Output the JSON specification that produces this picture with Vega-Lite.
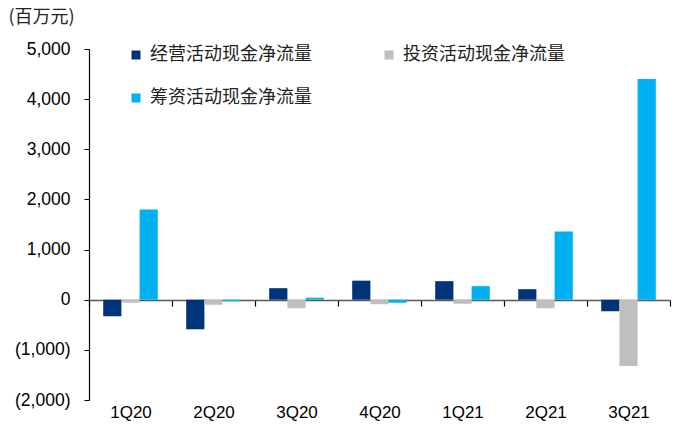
{
  "$schema": "https://vega.github.io/schema/vega-lite/v6.json",
  "width": 581,
  "height": 351,
  "autosize": "none",
  "padding": {"left": 89, "top": 49, "right": 7, "bottom": 41},
  "background": "white",
  "config": {"view": {"stroke": null}, "font": "Liberation Sans"},
  "data": {
    "values": [
      {"季度": "1Q20", "类型": "经营活动现金净流量", "值": -330},
      {"季度": "1Q20", "类型": "投资活动现金净流量", "值": -60},
      {"季度": "1Q20", "类型": "筹资活动现金净流量", "值": 1800},
      {"季度": "2Q20", "类型": "经营活动现金净流量", "值": -590},
      {"季度": "2Q20", "类型": "投资活动现金净流量", "值": -100},
      {"季度": "2Q20", "类型": "筹资活动现金净流量", "值": -30},
      {"季度": "3Q20", "类型": "经营活动现金净流量", "值": 230},
      {"季度": "3Q20", "类型": "投资活动现金净流量", "值": -170},
      {"季度": "3Q20", "类型": "筹资活动现金净流量", "值": 40},
      {"季度": "4Q20", "类型": "经营活动现金净流量", "值": 380},
      {"季度": "4Q20", "类型": "投资活动现金净流量", "值": -90},
      {"季度": "4Q20", "类型": "筹资活动现金净流量", "值": -60},
      {"季度": "1Q21", "类型": "经营活动现金净流量", "值": 370},
      {"季度": "1Q21", "类型": "投资活动现金净流量", "值": -80},
      {"季度": "1Q21", "类型": "筹资活动现金净流量", "值": 270},
      {"季度": "2Q21", "类型": "经营活动现金净流量", "值": 210},
      {"季度": "2Q21", "类型": "投资活动现金净流量", "值": -170},
      {"季度": "2Q21", "类型": "筹资活动现金净流量", "值": 1360},
      {"季度": "3Q21", "类型": "经营活动现金净流量", "值": -230},
      {"季度": "3Q21", "类型": "投资活动现金净流量", "值": -1320},
      {"季度": "3Q21", "类型": "筹资活动现金净流量", "值": 4400}
    ]
  },
  "mark": {"type": "bar"},
  "encoding": {
    "x": {
      "field": "季度",
      "type": "nominal",
      "sort": null,
      "scale": {"paddingInner": 0, "paddingOuter": 0},
      "axis": {
        "title": null,
        "labelAngle": 0,
        "offset": -100,
        "tickBand": "extent",
        "domainColor": "#595959",
        "domainWidth": 1.5,
        "tickColor": "#000000",
        "tickSize": 6,
        "tickWidth": 1.2,
        "labelPadding": 98,
        "labelFontSize": 17,
        "labelColor": "#000000",
        "labelFont": "Liberation Sans"
      }
    },
    "xOffset": {
      "field": "类型",
      "type": "nominal",
      "sort": ["经营活动现金净流量", "投资活动现金净流量", "筹资活动现金净流量"],
      "scale": {"paddingInner": 0, "paddingOuter": 0.78}
    },
    "y": {
      "field": "值",
      "type": "quantitative",
      "scale": {"domain": [-2000, 5000], "nice": false, "zero": false},
      "axis": {
        "values": [-2000, -1000, 0, 1000, 2000, 3000, 4000, 5000],
        "labelExpr": "datum.value < 0 ? '(' + format(-datum.value, ',') + ')' : format(datum.value, ',')",
        "grid": false,
        "domainColor": "#000000",
        "domainWidth": 1.2,
        "tickColor": "#000000",
        "tickSize": 5,
        "labelPadding": 14,
        "labelFontSize": 17.5,
        "labelColor": "#000000",
        "labelFont": "Liberation Sans",
        "title": "(百万元)",
        "titleAngle": 0,
        "titleAlign": "left",
        "titleBaseline": "middle",
        "titleX": -81,
        "titleY": -32,
        "titleFont": "Noto Sans CJK SC",
        "titleFontSize": 18,
        "titleFontWeight": "normal",
        "titleColor": "#222222"
      }
    },
    "color": {
      "field": "类型",
      "type": "nominal",
      "sort": ["经营活动现金净流量", "投资活动现金净流量", "筹资活动现金净流量"],
      "scale": {
        "domain": ["经营活动现金净流量", "投资活动现金净流量", "筹资活动现金净流量"],
        "range": ["#003478", "#BFBFBF", "#00B0F0"]
      },
      "legend": {
        "title": null,
        "orient": "none",
        "legendX": 38,
        "legendY": -3,
        "values": ["经营活动现金净流量", "筹资活动现金净流量", "投资活动现金净流量"],
        "columns": 2,
        "columnPadding": 68,
        "rowPadding": 25,
        "symbolType": "square",
        "symbolSize": 81,
        "symbolStrokeWidth": 0,
        "symbolOpacity": 1,
        "labelFont": "Noto Sans CJK SC",
        "labelFontSize": 18,
        "labelColor": "#222222",
        "labelOffset": 5,
        "labelLimit": 300
      }
    }
  }
}
